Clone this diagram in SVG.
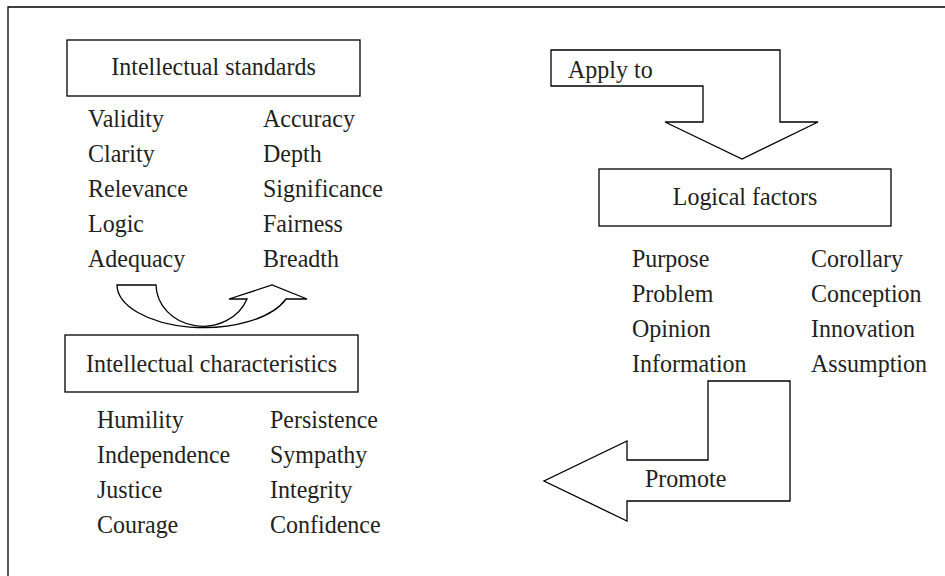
<svg xmlns="http://www.w3.org/2000/svg" width="945" height="576" viewBox="0 0 945 576">
<style>
.t{font-family:"Liberation Serif","Times New Roman",serif;font-size:24px;fill:#231f20}
.c{text-anchor:middle}
.b{fill:#fff;stroke:#000;stroke-width:1.3}
.s{fill:#fff;stroke:#000;stroke-width:1.3;stroke-linejoin:miter}
</style>
<rect width="945" height="576" fill="#fff"/>
<path d="M8,576 V7 H945" fill="none" stroke="#000" stroke-width="1.3"/>
<g id="standards">
<rect class="b" x="67" y="40" width="293" height="56"/>
<text class="t c" transform="translate(213.5,75) scale(1,1.08)">Intellectual standards</text>
<text class="t" transform="translate(88,127) scale(1,1.08)">Validity</text>
<text class="t" transform="translate(88,162) scale(1,1.08)">Clarity</text>
<text class="t" transform="translate(88,197) scale(1,1.08)">Relevance</text>
<text class="t" transform="translate(88,232) scale(1,1.08)">Logic</text>
<text class="t" transform="translate(88,267) scale(1,1.08)">Adequacy</text>
<text class="t" transform="translate(263,127) scale(1,1.08)">Accuracy</text>
<text class="t" transform="translate(263,162) scale(1,1.08)">Depth</text>
<text class="t" transform="translate(263,197) scale(1,1.08)">Significance</text>
<text class="t" transform="translate(263,232) scale(1,1.08)">Fairness</text>
<text class="t" transform="translate(263,267) scale(1,1.08)">Breadth</text>
</g>
<g id="characteristics">
<rect class="b" x="65" y="335" width="293" height="57"/>
<text class="t c" transform="translate(211.5,372) scale(1,1.08)">Intellectual characteristics</text>
<text class="t" transform="translate(97,428) scale(1,1.08)">Humility</text>
<text class="t" transform="translate(97,463) scale(1,1.08)">Independence</text>
<text class="t" transform="translate(97,498) scale(1,1.08)">Justice</text>
<text class="t" transform="translate(97,533) scale(1,1.08)">Courage</text>
<text class="t" transform="translate(270,428) scale(1,1.08)">Persistence</text>
<text class="t" transform="translate(270,463) scale(1,1.08)">Sympathy</text>
<text class="t" transform="translate(270,498) scale(1,1.08)">Integrity</text>
<text class="t" transform="translate(270,533) scale(1,1.08)">Confidence</text>
</g>
<g id="logical">
<rect class="b" x="599" y="169" width="292" height="57"/>
<text class="t c" transform="translate(745,205) scale(1,1.08)">Logical factors</text>
<text class="t" transform="translate(632,267) scale(1,1.08)">Purpose</text>
<text class="t" transform="translate(632,302) scale(1,1.08)">Problem</text>
<text class="t" transform="translate(632,337) scale(1,1.08)">Opinion</text>
<text class="t" transform="translate(632,372) scale(1,1.08)">Information</text>
<text class="t" transform="translate(811,267) scale(1,1.08)">Corollary</text>
<text class="t" transform="translate(811,302) scale(1,1.08)">Conception</text>
<text class="t" transform="translate(811,337) scale(1,1.08)">Innovation</text>
<text class="t" transform="translate(811,372) scale(1,1.08)">Assumption</text>
</g>
<g id="connectors">
<path id="curved" class="s" d="M117,285 A87,43 0 0 0 286,299 L307,299 L272,285 L229,299 L247,299 A47,42 0 0 1 156,285 Z"/>
<g id="apply">
<polygon class="s" points="551,50 780,50 780,122 818,122 742,159 665,122 703,122 703,86 551,86"/>
<text class="t" transform="translate(568,78) scale(1,1.08)">Apply to</text>
</g>
<g id="promote">
<polygon class="s" points="708,381 790,381 790,501 627,501 627,521 544,481 627,441 627,460 708,460"/>
<text class="t" transform="translate(645,487) scale(1,1.08)">Promote</text>
</g>
</g>
</svg>
